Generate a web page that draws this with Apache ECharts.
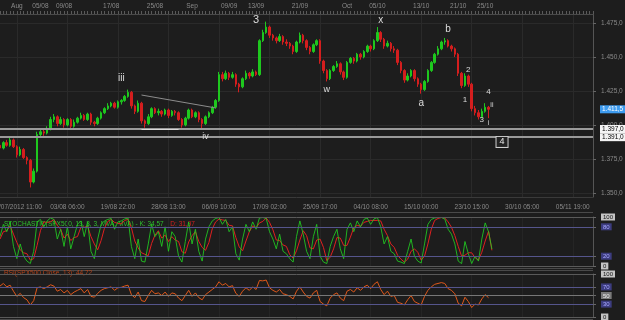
<!DOCTYPE html>
<html><head><meta charset="utf-8">
<script src="https://cdn.jsdelivr.net/npm/echarts@6/dist/echarts.min.js"></script>
<style>html,body{margin:0;padding:0;background:#1d1d1d}#c{width:625px;height:320px}</style>
</head><body><div id="c"></div>
<script>
// ---- data ----
// candles: [open, close, low, high]
const ohlc = [
[1385,1383,1381,1387],[1383,1387,1382,1388],[1387,1385,1384,1389],[1385,1389,1384,1391],[1389,1384,1383,1390],
[1384,1378,1376,1385],[1378,1382,1377,1384],[1382,1376,1375,1383],[1376,1374,1371,1377],[1374,1358,1354,1375],
[1358,1366,1357,1368],[1366,1393,1365,1395],[1393,1395,1391,1397],[1395,1394,1392,1397],[1394,1397,1393,1399],
[1397,1404,1396,1406],[1404,1406,1402,1408],[1406,1401,1399,1407],[1401,1404,1400,1406],[1404,1400,1398,1405],
[1400,1404,1399,1405],[1404,1399,1397,1405],[1399,1402,1398,1404],[1402,1405,1401,1406],[1405,1407,1404,1409],
[1407,1404,1403,1408],[1404,1408,1403,1409],[1408,1402,1400,1409],[1402,1401,1399,1403],[1401,1405,1400,1406],
[1405,1409,1404,1410],[1409,1412,1408,1413],[1412,1414,1411,1416],[1414,1416,1413,1417],[1416,1413,1412,1417],
[1413,1417,1412,1418],[1417,1418,1415,1419],[1418,1421,1417,1422],[1421,1424,1420,1426],[1424,1414,1412,1425],
[1414,1410,1408,1415],[1410,1416,1409,1418],[1416,1403,1401,1417],[1403,1401,1398,1404],[1401,1406,1400,1408],
[1406,1412,1405,1413],[1412,1409,1408,1413],[1409,1410,1407,1412],[1410,1408,1406,1411],[1408,1411,1407,1412],
[1411,1407,1405,1412],[1407,1410,1406,1411],[1410,1409,1407,1411],[1409,1404,1403,1410],[1404,1400,1398,1405],
[1400,1405,1399,1406],[1405,1411,1404,1412],[1411,1406,1405,1412],[1406,1409,1405,1410],[1409,1404,1402,1410],
[1404,1401,1397.5,1405],[1401,1406,1400,1407],[1406,1409,1405,1410],[1409,1413,1408,1414],[1413,1418,1412,1419],
[1418,1437,1417,1439],[1437,1434,1432,1439],[1434,1438,1433,1440],[1438,1435,1433,1439],[1435,1437,1434,1439],
[1437,1430,1428,1438],[1430,1428,1424,1431],[1428,1434,1427,1435],[1434,1438,1433,1440],[1438,1436,1434,1439],
[1436,1439,1435,1441],[1439,1437,1436,1440],[1437,1462,1436,1463],[1462,1468,1461,1470],[1468,1472,1467,1476],
[1472,1466,1464,1473],[1466,1464,1462,1467],[1464,1462,1460,1465],[1462,1465,1461,1467],[1465,1461,1459,1466],
[1461,1460,1458,1463],[1460,1458,1456,1461],[1458,1454,1452,1459],[1454,1461,1453,1462],[1461,1466,1460,1468],
[1466,1462,1460,1467],[1462,1457,1455,1463],[1457,1454,1452,1458],[1454,1459,1453,1460],[1459,1462,1458,1463],
[1462,1447,1445,1463],[1447,1440,1438,1448],[1440,1434,1432,1441],[1434,1440,1433,1441],[1440,1443,1439,1444],
[1443,1445,1442,1447],[1445,1439,1437,1446],[1439,1435,1433,1440],[1435,1446,1434,1447],[1446,1449,1445,1450],
[1449,1447,1445,1450],[1447,1452,1446,1453],[1452,1450,1448,1453],[1450,1454,1449,1455],[1454,1458,1453,1459],
[1458,1456,1454,1459],[1456,1462,1455,1463],[1462,1468,1461,1472],[1468,1463,1461,1469],[1463,1458,1456,1464],
[1458,1460,1457,1462],[1460,1456,1454,1461],[1456,1455,1453,1458],[1455,1446,1444,1456],[1446,1440,1438,1447],
[1440,1433,1431,1441],[1433,1436,1432,1438],[1436,1440,1435,1441],[1440,1434,1432,1441],[1434,1430,1428,1435],
[1430,1426,1423,1431],[1426,1432,1425,1433],[1432,1440,1431,1441],[1440,1446,1439,1447],[1446,1452,1445,1453],
[1452,1456,1451,1458],[1456,1461,1455,1462],[1461,1462,1459,1464],[1462,1458,1457,1463],[1458,1456,1454,1459],
[1456,1452,1450,1457],[1452,1438,1436,1453],[1438,1429,1427,1439],[1429,1436,1428,1438],[1436,1430,1428,1437],
[1430,1412,1410,1431],[1412,1409,1407,1414],[1409,1406,1404,1411],[1406,1410,1405,1412],[1410,1413,1409,1416],
[1413,1411.5,1405,1414]
];
const stochK = [60,85,70,90,40,15,45,20,10,5,30,
90,95,80,92,98,95,55,75,40,80,
35,60,85,92,60,90,30,15,55,85,
92,95,97,75,90,92,96,98,40,15,
55,10,8,45,85,60,70,40,80,30,
70,60,20,8,50,90,45,75,30,10,
55,80,92,97,99,85,95,70,80,25,
12,55,85,70,90,75,98,99,97,70,
55,35,65,30,25,15,8,60,92,65,
30,15,60,85,20,8,5,40,60,75,
35,15,75,88,70,92,80,95,98,85,
96,99,80,45,60,30,25,10,8,5,
30,55,20,10,6,45,85,95,98,99,
99,96,75,65,45,10,5,50,25,5,
20,10,55,88,70,34.57];
const stochD = [55,70,72,82,65,48,33,27,25,12,15,
42,72,90,89,90,95,83,75,57,65,
52,58,60,79,79,81,60,45,33,52,
77,91,95,89,87,86,93,95,78,51,
37,27,24,21,46,63,72,57,63,50,
60,53,50,29,26,49,62,70,50,38,
32,48,76,90,96,94,93,83,82,58,
39,31,51,70,82,78,88,91,98,89,
74,53,52,43,40,23,16,31,53,72,
62,37,35,53,55,38,11,18,35,58,
57,42,42,59,78,83,81,89,91,93,
93,93,92,75,62,45,38,22,14,8,
14,30,35,28,12,20,45,75,93,97,
99,98,90,79,62,40,20,22,27,27,
17,12,28,51,71,31.97];
const rsi = [72,78,70,74,60,48,55,45,40,28,38,
68,70,66,70,75,72,60,64,56,62,
52,58,62,66,56,64,48,46,55,62,
66,68,70,62,68,69,72,74,52,45,
58,38,36,50,62,54,56,50,58,48,
56,54,44,38,50,62,48,56,45,40,
52,58,64,70,82,74,78,70,73,55,
48,60,68,62,70,64,85,84,86,68,
62,58,64,54,52,48,42,60,70,58,
48,44,56,62,36,30,26,44,52,56,
44,38,60,64,58,68,62,70,74,66,
76,82,64,52,60,48,50,34,32,28,
40,50,36,32,28,48,62,70,76,78,
80,78,66,62,54,32,26,46,36,22,
30,28,42,52,44.72];
const bottomLabels = {5:'27/07/2012 11:00',20:'03/08 06:00',35:'19/08 22:00',50:'28/08 13:00',65:'06/09 10:00',
  80:'17/09 02:00',95:'25/09 17:00',110:'04/10 08:00',125:'15/10 00:00',140:'23/10 15:00',155:'30/10 05:00',170:'05/11 19:00'};
const topLabels = {5:'Aug',12:'05/08',19:'09/08',33:'17/08',46:'25/08',57:'Sep',68:'09/09',76:'13/09',89:'21/09',
  103:'Oct',112:'05/10',125:'13/10',136:'21/10',144:'25/10'};
const priceTicks = [1350,1375,1400,1425,1450,1475];
const supportLevels = [1397,1391];
const lastPrice = 1411.5;
const waveLabels = [
  ['iii',36,1434.5,10],['iv',61,1391.2,9],['3',76,1477.2,11],['w',97,1425.7,9],['x',113,1477.2,10],
  ['a',125,1416.2,10],['b',133,1470.6,10],['1',138,1418.4,8],['2',139,1440.4,8],['3',143,1403.7,8],
  ['4',145,1424.2,8],['ii',146,1414.7,7],['i',145,1401.5,7]
];
const boxedLabel = ['4',149,1387.5];
const trendLine = [[42,1422],[64,1412.5]];
const stochLevels = [100,80,20,0];
const rsiLevels = [100,70,50,30,0];

// ---- chart ----
const N = 177;
const cats = Array.from({length:N},(_, i)=>'b'+i);
const FONT = 'Liberation Sans';
const fmtPrice = v => { const s = v.toFixed(1).replace('.',','); return s.slice(0,1)+'.'+s.slice(1); };
const purple = '#55558c';

const chart = echarts.init(document.getElementById('c'));
const grids = [
  {left:0,right:32,top:14,height:183,containLabel:false,outerBoundsMode:'none'},
  {left:0,right:32,top:217,height:49,containLabel:false,outerBoundsMode:'none'},
  {left:0,right:32,top:274,height:43,containLabel:false,outerBoundsMode:'none'}
];
const baseX = (gi, extra) => Object.assign({
  type:'category', data:cats, gridIndex:gi, boundaryGap:false,
  axisLine:{show:false}, axisTick:{show:false}, axisLabel:{show:false},
  splitLine:{show:true, interval:(i)=>bottomLabels[i]!==undefined, lineStyle:{color:'#2a2a2a',width:1}}
}, extra||{});

const levelRich = {
  g:{backgroundColor:'#c4c4c4',color:'#111',padding:[1,2,0,2],fontSize:6,fontFamily:FONT},
  b:{backgroundColor:'#3d3d80',color:'#a8a8ff',padding:[1,2,0,2],fontSize:6,fontFamily:FONT},
  m:{backgroundColor:'#7a7a7a',color:'#eee',padding:[1,2,0,2],fontSize:6,fontFamily:FONT}
};

const option = {
  backgroundColor:'#1d1d1d',
  animation:false,
  grid:grids,
  xAxis:[
    baseX(0,{position:'bottom',axisLine:{show:true,lineStyle:{color:'#3a3a3a'}},
      axisLabel:{show:true,interval:0,margin:7,color:'#8a8a8a',fontSize:6.5,fontFamily:FONT,
        formatter:(v,i)=>bottomLabels[i]||''}}),
    baseX(0,{position:'top',splitLine:{show:false},axisLine:{show:true,lineStyle:{color:'#4a4a4a'}},
      axisTick:{show:true,interval:0,length:3,lineStyle:{color:'#5a5a5a'}},
      axisLabel:{show:true,interval:0,margin:4,color:'#8a8a8a',fontSize:6.5,fontFamily:FONT,
        formatter:(v,i)=>topLabels[i]||''}}),
    baseX(1,{splitLine:{show:true,interval:(i)=>bottomLabels[i]!==undefined,lineStyle:{color:'#252525'}}}),
    baseX(2,{splitLine:{show:true,interval:(i)=>bottomLabels[i]!==undefined,lineStyle:{color:'#252525'}}})
  ],
  yAxis:[
    {type:'value',gridIndex:0,position:'right',min:1347,max:1481.6,
      axisLine:{show:true,lineStyle:{color:'#555'}},
      axisTick:{show:true,length:3,customValues:priceTicks,lineStyle:{color:'#666'}},
      axisLabel:{color:'#8a8a8a',fontSize:6.5,fontFamily:FONT,margin:8,customValues:priceTicks,formatter:fmtPrice},
      splitLine:{show:true,lineStyle:{color:'#2a2a2a'}}},
    {type:'value',gridIndex:1,position:'right',min:0,max:100,
      axisLine:{show:true,lineStyle:{color:'#555'}},
      axisTick:{show:true,length:3,customValues:stochLevels,lineStyle:{color:'#666'}},
      axisLabel:{margin:8,customValues:stochLevels,rich:levelRich,
        formatter:v=>(v===80||v===20)?'{b|'+v+'}':'{g|'+v+'}'},
      splitLine:{show:false}},
    {type:'value',gridIndex:2,position:'right',min:0,max:100,
      axisLine:{show:true,lineStyle:{color:'#555'}},
      axisTick:{show:true,length:3,customValues:rsiLevels,lineStyle:{color:'#666'}},
      axisLabel:{margin:8,customValues:rsiLevels,rich:levelRich,
        formatter:v=>(v===70||v===30)?'{b|'+v+'}':(v===50?'{m|'+v+'}':'{g|'+v+'}')},
      splitLine:{show:false}}
  ],
  series:[
    {type:'candlestick',xAxisIndex:0,yAxisIndex:0,data:ohlc,barWidth:2,
      itemStyle:{color:'#1ec81e',color0:'#d41e1e',borderColor:'#1ec81e',borderColor0:'#d41e1e',borderWidth:1},
      markLine:{silent:true,symbol:'none',animation:false,
        data:[
          ...supportLevels.map(v=>({yAxis:v,lineStyle:{color:'#9a9a9a',width:2,type:'solid'},
            label:{show:true,position:'end',distance:7,formatter:()=>fmtPrice(v),backgroundColor:'#f4f4f4',color:'#000',
              padding:[1,2,0,2],fontSize:6.5,fontFamily:FONT}})),
          {yAxis:lastPrice,lineStyle:{color:'rgba(0,0,0,0)',width:0},
            label:{show:true,position:'end',distance:7,formatter:()=>fmtPrice(lastPrice),backgroundColor:'#3d9bef',color:'#fff',
              padding:[1,2,0,2],fontSize:6.5,fontFamily:FONT}},
          [{coord:trendLine[0],lineStyle:{color:'#8c8c8c',width:1,type:'solid'},label:{show:false}},{coord:trendLine[1]}],
          [{coord:[42,1397],lineStyle:{color:'#d8d8d8',width:1,type:'solid'},label:{show:false}},{coord:[53,1397]}]
        ]},
      markPoint:{silent:true,symbolSize:0,animation:false,
        data:[
          ...waveLabels.map(w=>({coord:[w[1],w[2]],label:{show:true,formatter:w[0],color:'#dcdcdc',fontSize:w[3],fontFamily:FONT}})),
          {coord:[boxedLabel[1],boxedLabel[2]],label:{show:true,formatter:boxedLabel[0],color:'#e8e8e8',fontSize:9,fontFamily:FONT,
            borderColor:'#cfcfcf',borderWidth:1,padding:[1,3,0,3],backgroundColor:'#222'}}
        ]}
    },
    {type:'line',xAxisIndex:2,yAxisIndex:1,data:stochD,showSymbol:false,lineStyle:{color:'#e02020',width:1},
      markLine:{silent:true,symbol:'none',label:{show:false},
        data:stochLevels.map(v=>({yAxis:v,lineStyle:{type:'solid',width:1,color:(v===80||v===20)?purple:'#5a5a5a'}}))}},
    {type:'line',xAxisIndex:2,yAxisIndex:1,data:stochK,showSymbol:false,lineStyle:{color:'#22cc22',width:1,opacity:0.85}},
    {type:'line',xAxisIndex:3,yAxisIndex:2,data:rsi,showSymbol:false,lineStyle:{color:'#e0581a',width:1},
      markLine:{silent:true,symbol:'none',label:{show:false},
        data:rsiLevels.map(v=>({yAxis:v,lineStyle:{type:'solid',width:1,color:(v===70||v===30)?purple:(v===50?'#777':'#5a5a5a')}}))}}
  ],
  graphic:[
    {type:'line',shape:{x1:0,y1:212.5,x2:593,y2:212.5},style:{stroke:'#4a4a4a',lineWidth:1},silent:true},
    {type:'line',shape:{x1:0,y1:268.5,x2:593,y2:268.5},style:{stroke:'#4a4a4a',lineWidth:1},silent:true},
    {type:'line',shape:{x1:0,y1:270.5,x2:593,y2:270.5},style:{stroke:'#4a4a4a',lineWidth:1},silent:true},
    {type:'line',shape:{x1:0,y1:319.5,x2:593,y2:319.5},style:{stroke:'#4a4a4a',lineWidth:1},silent:true},
    {type:'text',left:4,top:218,silent:true,style:{
      text:'{g|STOCHASTIC(SPX500, 13, 3, 3, MVA, MVA) - K: 34,57}  {r|D: 31,97}',
      rich:{g:{fill:'#2fbf2f',fontSize:6.5,fontFamily:FONT},r:{fill:'#d42020',fontSize:6.5,fontFamily:FONT}}}},
    {type:'text',left:4,top:270,silent:true,style:{text:'RSI(SPX500.Close, 13): 44,72',fill:'#b8441a',fontSize:6.5,fontFamily:FONT}}
  ]
};
chart.setOption(option);
</script></body></html>
